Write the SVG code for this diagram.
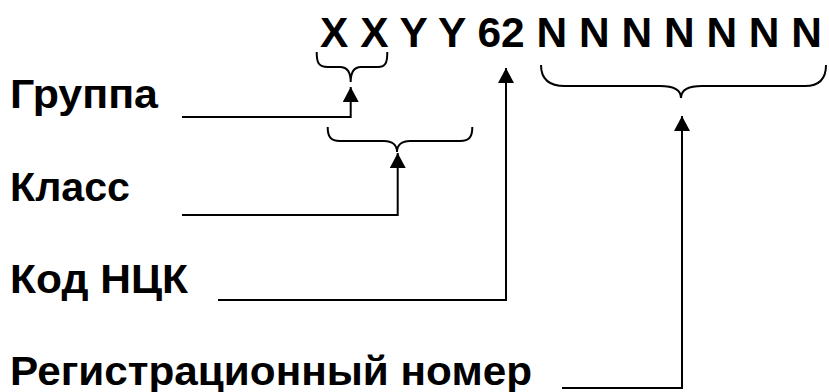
<svg xmlns="http://www.w3.org/2000/svg" width="829" height="392" viewBox="0 0 829 392">
<style>
text{font-family:"Liberation Sans",Arial,sans-serif;font-weight:bold;fill:#000}
.code{font-size:43px}
.lbl{font-size:40px}
.ln{fill:none;stroke:#000;stroke-width:2}
.br{fill:none;stroke:#000;stroke-width:2}
</style>
<defs>
<marker id="ah" markerWidth="15" markerHeight="16" refX="15" refY="8" orient="auto" markerUnits="userSpaceOnUse">
<path d="M0,0 L15,8 L0,16 Z" fill="#000"/>
</marker>
</defs>
<g id="code"><text class="code" x="320" y="47" textLength="502" lengthAdjust="spacingAndGlyphs">X X Y Y 62 N N N N N N N</text></g>
<g id="braces">
<path class="br" d="M316.7,52 C316.7,62 318,67 328,67 L340,67 C347,67 350.7,72 350.7,82 C350.7,72 354,67 361,67 L378,67 C386,67 387.3,62 387.3,52"/>
<path class="br" d="M327.7,127 C327.7,136 330,141 340,141 L384,141 C392,141 397,145 397,152 C397,145 402,141 410,141 L460,141 C470,141 472.3,136 472.3,127"/>
<path class="br" d="M541,65 C541,78 548,86 565,86 L660,86 C674,86 681,90 681,98 C681,90 688,86 702,86 L805,86 C820,86 826,78 826,65"/>
</g>
<g id="group"><text class="lbl" x="10" y="108" textLength="148" lengthAdjust="spacingAndGlyphs">Группа</text></g>
<g id="class"><text class="lbl" x="10" y="201" textLength="120" lengthAdjust="spacingAndGlyphs">Класс</text></g>
<g id="nck"><text class="lbl" x="10" y="293" textLength="178" lengthAdjust="spacingAndGlyphs">Код НЦК</text></g>
<g id="reg"><text class="lbl" x="10" y="385" textLength="522" lengthAdjust="spacingAndGlyphs">Регистрационный номер</text></g>
<g id="connectors">
<path class="ln" d="M182,117 H350.7 V87" marker-end="url(#ah)"/>
<path class="ln" d="M182,215 H397.7 V153" marker-end="url(#ah)"/>
<path class="ln" d="M218,300 H506 V68" marker-end="url(#ah)"/>
<path class="ln" d="M562,388 H682 V116" marker-end="url(#ah)"/>
</g>
</svg>
